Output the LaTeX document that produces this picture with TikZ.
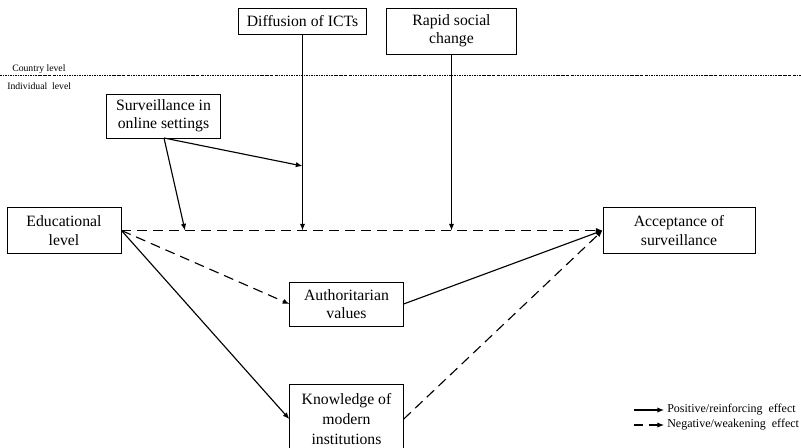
\documentclass[tikz,border=0pt]{standalone}
\usepackage{fontspec}
\setmainfont{Liberation Serif}
\usetikzlibrary{arrows.meta}
\usetikzlibrary{positioning}
\usetikzlibrary{calc}

\tikzset{
	factor/.style={draw, line width=0.7pt, align=center, inner sep=2pt, font=\fontsize{11.8}{13.8}\selectfont},
	posarrow/.style={line width=0.85pt, -{Latex[length=5pt,width=4pt]}},
	negarrow/.style={posarrow, dash pattern=on 7.5pt off 4.5pt},
	levelline/.style={line width=0.45pt, dash pattern=on 1.6pt off 0.8pt on 0.5pt off 0.8pt},
	levellabel/.style={font=\fontsize{7.3}{8}\selectfont, inner sep=0pt, anchor=west},
	legendlabel/.style={font=\fontsize{9}{10}\selectfont, inner sep=0pt, anchor=west}
}

\begin{document}
\begin{tikzpicture}[x=0.75pt, y=-0.75pt]
	
	\useasboundingbox (0,0) rectangle (801,447);
	
	% country level
	\node [factor, minimum width=96pt, minimum height=19.5pt] (ict) at (302.5, 21) {Diffusion of ICTs};
	\node [factor, minimum width=97pt, minimum height=34.5pt] (rapid) at (451.5, 31) {Rapid social\\change};
	
	\coordinate (lvlL) at (0, 75);
	\coordinate (lvlR) at (801, 75);
	\draw [levelline] (lvlL)--(lvlR);
	\node [levellabel] (country) at (12, 69) {Country level};
	\node [levellabel] (indiv) at (7, 86) {Individual\ \ level};
	
	% individual level
	\node [factor, minimum width=85pt, minimum height=33pt] (online) at (163.5, 116) {Surveillance in\\online settings};
	\node [factor, minimum width=85.5pt, minimum height=34pt] (edu) at (64, 230.5) {Educational\\level};
	\node [factor, minimum width=114pt, minimum height=34pt] (accept) at (679, 230.5) {Acceptance of\\surveillance};
	\node [factor, minimum width=85pt, minimum height=33pt] (auth) at (346.5, 304) {Authoritarian\\values};
	\node [factor, font=\fontsize{11.8}{15}\selectfont, minimum width=85pt, minimum height=52pt, anchor=north] (know) at (346.5, 384) {Knowledge of\\modern\\institutions};
	
	% main effect and moderators
	\draw [negarrow] (edu.east)--(accept.west);
	\coordinate (ictM) at (ict.south |- edu.east);
	\coordinate (rapidM) at (rapid.south |- edu.east);
	\coordinate (onlineM) at (185, 230.5);
	\coordinate (ictO) at (ict.south |- 0,166);
	\coordinate (onlineS) at (164, 138);
	\draw [posarrow] (ict.south)--(ictM);
	\draw [posarrow] (rapid.south)--(rapidM);
	\draw [posarrow] (onlineS)--(onlineM);
	\draw [posarrow] (onlineS)--(ictO);
	
	% mediators
	\draw [negarrow] (edu.east)--(auth.west);
	\draw [posarrow] (edu.east)--(know.west);
	\draw [posarrow] (auth.east)--(accept.west);
	\draw [negarrow] (know.east)--(accept.west);
	
	% legend
	\coordinate (posA) at (634, 410);
	\coordinate (posB) at (664, 410);
	\coordinate (negA) at (634, 425);
	\coordinate (negB) at (664, 425);
	\draw [posarrow] (posA)--(posB);
	\draw [negarrow, dash pattern=on 7pt off 4pt] (negA)--(negB);
	\node [legendlabel] (posl) at (667, 410) {Positive/reinforcing\ \ effect};
	\node [legendlabel] (negl) at (667, 425) {Negative/weakening\ \ effect};
	
\end{tikzpicture}
\end{document}
